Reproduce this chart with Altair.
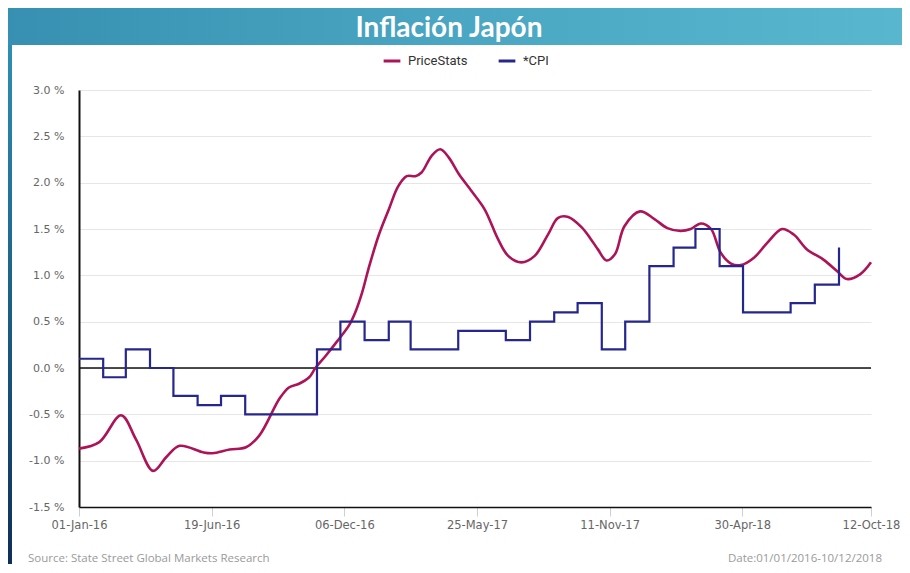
import altair as alt
import pandas as pd

# ---------------- data ----------------
ps_dates = [
    "2016-01-01", "2016-01-27", "2016-02-24", "2016-03-14", "2016-04-05", "2016-04-22",
    "2016-05-09", "2016-06-08", "2016-06-20", "2016-07-12", "2016-08-02", "2016-08-19",
    "2016-09-14", "2016-09-26", "2016-10-09", "2016-10-22", "2016-10-30", "2016-11-12",
    "2016-11-27", "2016-12-12", "2016-12-20", "2016-12-29", "2017-01-06", "2017-01-19",
    "2017-02-01", "2017-02-13", "2017-02-24", "2017-03-07", "2017-03-15", "2017-03-28",
    "2017-04-08", "2017-04-19", "2017-05-02", "2017-05-18", "2017-06-04", "2017-06-21",
    "2017-07-04", "2017-07-21", "2017-08-07", "2017-08-24", "2017-09-06", "2017-09-19",
    "2017-10-06", "2017-10-18", "2017-10-27", "2017-11-07", "2017-11-18", "2017-11-30",
    "2017-12-20", "2018-01-07", "2018-01-24", "2018-02-10", "2018-02-23", "2018-03-08",
    "2018-03-21", "2018-04-02", "2018-04-15", "2018-04-28", "2018-05-15", "2018-06-01",
    "2018-06-20", "2018-07-05", "2018-07-22", "2018-08-12", "2018-08-29", "2018-09-11",
    "2018-09-28", "2018-10-12",
]
ps_values = [
    -0.87, -0.80, -0.51, -0.77, -1.11, -0.96,
    -0.84, -0.91, -0.92, -0.88, -0.855, -0.73,
    -0.33, -0.21, -0.17, -0.10, 0.00, 0.13,
    0.29, 0.46, 0.60, 0.82, 1.07, 1.43,
    1.71, 1.96, 2.07, 2.07, 2.11, 2.29,
    2.36, 2.27, 2.09, 1.91, 1.71, 1.39,
    1.21, 1.14, 1.21, 1.44, 1.62, 1.63,
    1.52, 1.39, 1.28, 1.16, 1.23, 1.53,
    1.69, 1.61, 1.51, 1.48, 1.50, 1.56,
    1.50, 1.25, 1.13, 1.11, 1.19, 1.35,
    1.50, 1.44, 1.28, 1.17, 1.05, 0.96,
    1.01, 1.14,
]

cpi_dates = [
    "2016-01-01", "2016-02-01", "2016-03-01", "2016-04-01", "2016-05-01", "2016-06-01",
    "2016-07-01", "2016-08-01", "2016-09-01", "2016-10-01", "2016-11-01", "2016-12-01",
    "2017-01-01", "2017-02-01", "2017-03-01", "2017-04-01", "2017-05-01", "2017-06-01",
    "2017-07-01", "2017-08-01", "2017-09-01", "2017-10-01", "2017-11-01", "2017-12-01",
    "2018-01-01", "2018-02-01", "2018-03-01", "2018-04-01", "2018-05-01", "2018-06-01",
    "2018-07-01", "2018-08-01", "2018-09-01",
]
cpi_values = [
    0.1, -0.1, 0.2, 0.0, -0.3, -0.4,
    -0.3, -0.5, -0.5, -0.5, 0.2, 0.5,
    0.3, 0.5, 0.2, 0.2, 0.4, 0.4,
    0.3, 0.5, 0.6, 0.7, 0.2, 0.5,
    1.1, 1.3, 1.5, 1.1, 0.6, 0.6,
    0.7, 0.9, 1.3,
]

series_names = ["PriceStats", "*CPI"]
series_colors = ["#ad1457", "#26268f"]

y_ticks = [-1.5, -1.0, -0.5, 0.0, 0.5, 1.0, 1.5, 2.0, 2.5, 3.0]
x_ticks = [(2016, 1, 1), (2016, 6, 19), (2016, 12, 6), (2017, 5, 25),
           (2017, 11, 11), (2018, 4, 30), (2018, 10, 12)]

title_text = "Inflación Japón"
source_text = "Source: State Street Global Markets Research"
date_text = "Date:01/01/2016-10/12/2018"

# ---------------- build ----------------
ps_df = pd.DataFrame({"date": ps_dates, "value": ps_values, "series": series_names[0]})
cpi_df = pd.DataFrame({"date": cpi_dates, "value": cpi_values, "series": series_names[1]})
one = pd.DataFrame({"k": [0]})


def dt(t):
    return alt.DateTime(year=t[0], month=t[1], date=t[2], utc=True)


x_enc = alt.X(
    "date:T",
    scale=alt.Scale(type="utc", domain=[dt(x_ticks[0]), dt(x_ticks[-1])]),
    axis=alt.Axis(
        values=[dt(t) for t in x_ticks],
        labelExpr="utcFormat(datum.value, '%d-%b-%y')",
        title=None, grid=False, domainColor="#111", domainWidth=1.5,
        tickColor="#c8cfe0", tickSize=9, labelPadding=3,
        labelFlush=False, labelOverlap=False,
        labelColor="#666", labelFont="DejaVu Sans", labelFontSize=11.5,
    ),
)
y_enc = alt.Y(
    "value:Q",
    scale=alt.Scale(domain=[-1.5, 3.0], nice=False, zero=False),
    axis=alt.Axis(
        values=y_ticks,
        labelExpr="replace(format(datum.value, '.1f'), '−', '-') + ' %'",
        title=None, grid=True, gridColor="#e6e6e6", gridWidth=1,
        domainColor="#111", domainWidth=2, ticks=False, labelPadding=15,
        labelColor="#666", labelFont="DejaVu Sans", labelFontSize=11,
    ),
)
color_enc = alt.Color(
    "series:N",
    scale=alt.Scale(domain=series_names, range=series_colors),
    legend=alt.Legend(
        title=None, orient="none", legendX=303, legendY=-39,
        direction="horizontal", symbolType="stroke", symbolStrokeWidth=3,
        symbolSize=280, labelFont="Roboto", labelFontSize=13, labelColor="#333",
        columnPadding=24, labelOffset=6,
    ),
)

banner = alt.Chart(one).mark_rect(
    color=alt.Gradient(
        gradient="linear", x1=0, y1=0, x2=1, y2=0,
        stops=[alt.GradientStop(color="#3790b1", offset=0),
               alt.GradientStop(color="#4aa6c2", offset=0.5),
               alt.GradientStop(color="#58b7cf", offset=1)],
    )
).encode(x=alt.value(-71), x2=alt.value(823), y=alt.value(-82), y2=alt.value(-45))

strip = alt.Chart(one).mark_rect(
    color=alt.Gradient(
        gradient="linear", x1=0, y1=0, x2=0, y2=1,
        stops=[alt.GradientStop(color="#2d8fb2", offset=0),
               alt.GradientStop(color="#1c5f86", offset=0.5),
               alt.GradientStop(color="#0e2f58", offset=1)],
    )
).encode(x=alt.value(-71), x2=alt.value(-67), y=alt.value(-45), y2=alt.value(475))

title = alt.Chart(one).mark_text(
    text=title_text, font="Lato", fontWeight="bold", fontSize=28,
    color="white", align="center", baseline="middle",
).encode(x=alt.value(370), y=alt.value(-61))

source = alt.Chart(one).mark_text(
    text=source_text, font="Open Sans", fontSize=11.5, color="#9a9a9a",
    align="left", baseline="middle",
).encode(x=alt.value(-51), y=alt.value(469))

date_lbl = alt.Chart(one).mark_text(
    text=date_text, font="Open Sans", fontSize=11.5, color="#9a9a9a",
    align="right", baseline="middle",
).encode(x=alt.value(803), y=alt.value(469))

zero = alt.Chart(one).mark_rule(color="#111", strokeWidth=1.3).encode(y=alt.datum(0))

ps_line = alt.Chart(ps_df).mark_line(interpolate="catmull-rom", strokeWidth=2.6).encode(
    x=x_enc, y=y_enc, color=color_enc
)
cpi_line = alt.Chart(cpi_df).mark_line(interpolate="step-after", strokeWidth=2.2).encode(
    x=x_enc, y=y_enc, color=color_enc
)

chart = alt.layer(
    banner, strip, zero, ps_line, cpi_line, title, source, date_lbl
).properties(
    width=792, height=417,
    autosize=alt.AutoSizeParams(type="none"),
    padding={"left": 71, "top": 82, "right": 31, "bottom": 57},
    background="white",
).configure_view(stroke=None)

chart.save("out.html", embed_options={"renderer": "svg", "actions": False})
